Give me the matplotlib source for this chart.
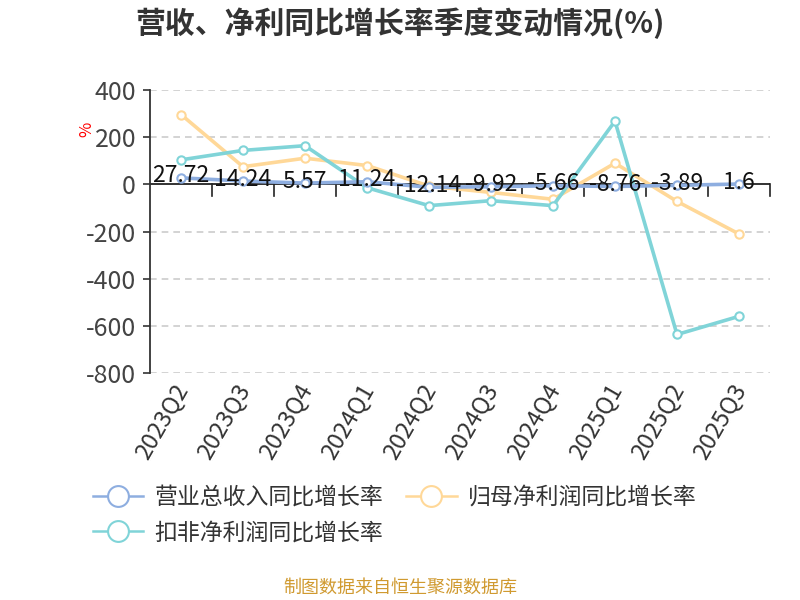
import matplotlib
matplotlib.use('Agg')
import matplotlib.pyplot as plt
import matplotlib.transforms as mtransforms
from matplotlib.lines import Line2D

plt.rcParams['font.family'] = ['Noto Sans CJK SC', 'DejaVu Sans']
plt.rcParams['axes.unicode_minus'] = False

# 数据
quarters = ['2023Q2', '2023Q3', '2023Q4', '2024Q1', '2024Q2',
            '2024Q3', '2024Q4', '2025Q1', '2025Q2', '2025Q3']
revenue_yoy = [27.72, 14.24, 5.57, 11.24, -12.14, -9.92, -5.66, -8.76, -3.89, 1.6]
net_profit_yoy = [296, 75, 111, 80, -7, -34, -63, 90, -72, -210]
deducted_profit_yoy = [104, 144, 164, -14, -90, -69, -90, 268, -636, -559]

series_names = ['营业总收入同比增长率', '归母净利润同比增长率', '扣非净利润同比增长率']
colors = ['#8eaee0', '#ffd898', '#80d4d8']

fig = plt.figure(figsize=(8, 6), dpi=100)
ax = fig.add_axes([0.1875, 0.378, 0.775, 0.472])

x = list(range(len(quarters)))
series = [revenue_yoy, net_profit_yoy, deducted_profit_yoy]
for vals, c, z in zip(series, colors, [5, 3, 4]):
    ax.plot(x, vals, color=c, lw=2.6, marker='o', markersize=6,
            markerfacecolor='white', markeredgecolor=c, markeredgewidth=1.5, zorder=z)

# 营收数据标签
for xi, v in zip(x, revenue_yoy):
    ax.text(xi, v + 8, f'{v:g}', ha='center', va='center', fontsize=16.5,
            color='#111111', zorder=6)

ax.set_xlim(-0.5, len(quarters) - 0.5)
ax.set_ylim(-800, 400)
ax.set_yticks([-800, -600, -400, -200, 0, 200, 400])
ax.tick_params(axis='y', labelsize=18, colors='#333333', length=5, width=1.2,
               labelcolor='#444444', pad=5)
for yv in [-800, -600, -400, -200, 200, 400]:
    ax.axhline(yv, color='#cccccc', lw=1.2, ls=(0, (4, 3)), zorder=1)

ax.spines['top'].set_visible(False)
ax.spines['right'].set_visible(False)
ax.spines['bottom'].set_visible(False)
ax.spines['left'].set_color('#333333')
ax.spines['left'].set_linewidth(1.3)

# x轴在0处
ax.axhline(0, color='#222222', lw=1.3, zorder=2)
for b in range(len(quarters)):
    bx = b + 0.5
    ax.plot([bx, bx], [0, -50], color='#222222', lw=1.2, zorder=2, clip_on=False)

ax.set_xticks(x)
ax.set_xticklabels(quarters, rotation=60, ha='right', va='top',
                   rotation_mode='anchor', fontsize=17, color='#333333')
ax.tick_params(axis='x', length=0, pad=5)
shift = mtransforms.ScaledTranslation(-8 / 100, 0, fig.dpi_scale_trans)
for lbl in ax.get_xticklabels():
    lbl.set_transform(lbl.get_transform() + shift)

fig.text(0.5, 0.962, '营收、净利同比增长率季度变动情况(%)', ha='center', va='center',
         fontsize=21.5, fontweight='bold', color='#333333')
fig.text(0.108, 0.785, '%', rotation=90, color='red', fontsize=12,
         ha='center', va='center')
fig.text(0.5, 0.02, '制图数据来自恒生聚源数据库', ha='center', va='center',
         fontsize=13, color='#d09a30')

handles = [Line2D([0], [0], color=c, lw=1.8, marker='o', markersize=15,
                  markerfacecolor='white', markeredgecolor=c, markeredgewidth=1.5)
           for c in colors]
# 按行排列图例: 第一行两个，第二行一个
order = [0, 2, 1]
fig.legend([handles[i] for i in order], [series_names[i] for i in order],
           loc='upper left', bbox_to_anchor=(0.09, 0.225),
           ncol=2, frameon=False, fontsize=16.5, handlelength=2.2,
           columnspacing=1.0, handletextpad=0.5, labelspacing=0.55,
           labelcolor='#333333')

fig.savefig('out.png', dpi=100)
